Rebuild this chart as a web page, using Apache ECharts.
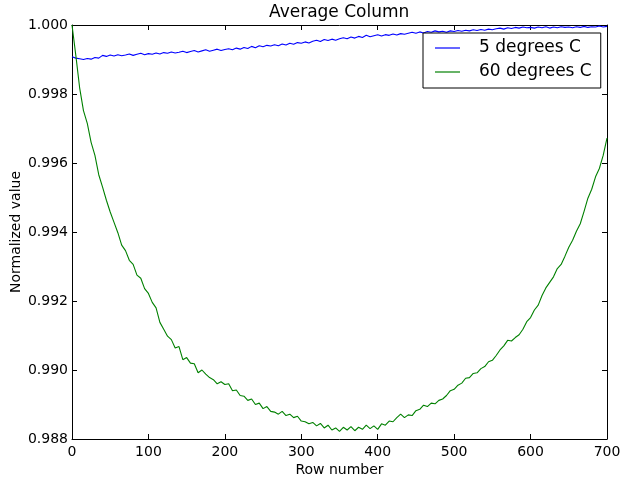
<!DOCTYPE html>
<html>
<head>
<meta charset="utf-8">
<script src="https://cdn.jsdelivr.net/npm/echarts@6/dist/echarts.min.js"></script>
<style>html,body{margin:0;padding:0;background:#fff}#c{width:623px;height:479px}</style>
</head>
<body>
<div id="c"></div>
<script>
var chartTitle = 'Average Column';
var xName = 'Row number';
var yName = 'Normalized value';
var seriesNames = ['5 degrees C', '60 degrees C'];
var xTicks = [0, 100, 200, 300, 400, 500, 600, 700];
var yTicks = [0.988, 0.990, 0.992, 0.994, 0.996, 0.998, 1.000];

var rows = [0,5,10,15,20,25,30,35,40,45,50,55,60,65,70,75,80,85,90,95,100,105,110,115,120,125,130,135,140,145,150,155,160,165,170,175,180,185,190,195,200,205,210,215,220,225,230,235,240,245,250,255,260,265,270,275,280,285,290,295,300,305,310,315,320,325,330,335,340,345,350,355,360,365,370,375,380,385,390,395,400,405,410,415,420,425,430,435,440,445,450,455,460,465,470,475,480,485,490,495,500,505,510,515,520,525,530,535,540,545,550,555,560,565,570,575,580,585,590,595,600,605,610,615,620,625,630,635,640,645,650,655,660,665,670,675,680,685,690,695,700];

var blue5C = [
0.99908,0.99904,0.99902,0.99900,0.99903,0.99901,0.99906,0.99904,0.99912,0.99909,0.99913,
0.99910,0.99914,0.99911,0.99913,0.99916,0.99912,0.99915,0.99918,0.99914,0.99917,
0.99915,0.99919,0.99916,0.99920,0.99918,0.99922,0.99919,0.99921,0.99924,0.99920,
0.99923,0.99926,0.99922,0.99925,0.99928,0.99924,0.99927,0.99930,0.99926,0.99929,
0.99931,0.99928,0.99933,0.99930,0.99935,0.99932,0.99938,0.99934,0.99940,0.99937,
0.99941,0.99939,0.99943,0.99940,0.99945,0.99942,0.99947,0.99944,0.99949,0.99947,
0.99951,0.99948,0.99953,0.99956,0.99952,0.99958,0.99955,0.99959,0.99956,0.99960,
0.99963,0.99960,0.99965,0.99962,0.99967,0.99964,0.99970,0.99966,0.99969,0.99972,
0.99968,0.99972,0.99970,0.99974,0.99971,0.99975,0.99973,0.99976,0.99979,0.99976,
0.99980,0.99977,0.99981,0.99979,0.99983,0.99980,0.99982,0.99979,0.99983,0.99981,
0.99984,0.99982,0.99985,0.99983,0.99986,0.99984,0.99987,0.99985,0.99988,0.99986,
0.99989,0.99991,0.99988,0.99992,0.99990,0.99993,0.99991,0.99994,0.99992,0.99993,
0.99991,0.99994,0.99992,0.99995,0.99991,0.99994,0.99992,0.99995,0.99993,0.99994,
0.99992,0.99995,0.99993,0.99996,0.99993,0.99995,0.99994,0.99997,0.99994,0.99996];

var green60C = [
1.00000,0.99912,0.99818,0.99752,0.99715,0.99660,0.99622,0.99566,0.99530,0.99492,0.99458,
0.99428,0.99398,0.99362,0.99346,0.99318,0.99306,0.99275,0.99266,0.99236,0.99222,
0.99196,0.99180,0.99138,0.99118,0.99098,0.99088,0.99064,0.99068,0.99030,0.99036,
0.99020,0.99018,0.98992,0.99000,0.98988,0.98978,0.98972,0.98960,0.98966,0.98958,
0.98960,0.98940,0.98942,0.98926,0.98924,0.98912,0.98916,0.98900,0.98904,0.98888,
0.98894,0.98880,0.98878,0.98872,0.98880,0.98868,0.98872,0.98862,0.98866,0.98852,
0.98850,0.98844,0.98848,0.98838,0.98845,0.98832,0.98840,0.98826,0.98832,0.98822,
0.98834,0.98826,0.98836,0.98824,0.98834,0.98828,0.98840,0.98830,0.98838,0.98828,
0.98844,0.98840,0.98852,0.98850,0.98862,0.98872,0.98862,0.98870,0.98868,0.98882,
0.98886,0.98898,0.98894,0.98904,0.98902,0.98912,0.98916,0.98926,0.98940,0.98944,
0.98956,0.98962,0.98976,0.98978,0.98990,0.98992,0.99004,0.99010,0.99024,0.99028,
0.99042,0.99058,0.99070,0.99086,0.99084,0.99094,0.99102,0.99118,0.99140,0.99152,
0.99174,0.99188,0.99216,0.99238,0.99254,0.99270,0.99294,0.99306,0.99330,0.99356,
0.99376,0.99402,0.99424,0.99460,0.99498,0.99524,0.99560,0.99584,0.99622,0.99672];

function pairs(xs, ys) { return xs.map(function (x, i) { return [x, ys[i]]; }); }

var FONT = 'DejaVu Sans';
var chart = echarts.init(document.getElementById('c'), null, { renderer: 'canvas' });
var xMin = xTicks[0], xMax = xTicks[xTicks.length - 1], xInt = xTicks[1] - xTicks[0];
var yMin = yTicks[0], yMax = yTicks[yTicks.length - 1], yInt = 0.002;

function baseAxis(extra) {
  var a = {
    type: 'value',
    axisLine: { show: true, onZero: false, lineStyle: { color: '#000', width: 1 } },
    axisTick: { show: true, inside: true, length: 5, lineStyle: { color: '#000', width: 1 } },
    splitLine: { show: false },
    axisLabel: { show: false }
  };
  for (var k in extra) a[k] = extra[k];
  return a;
}

chart.setOption({
  animation: false,
  backgroundColor: '#fff',
  title: {
    text: chartTitle, left: 269, top: 4, padding: 0,
    textStyle: { fontFamily: FONT, fontSize: 17, fontWeight: 'normal', color: '#000' }
  },
  grid: { left: 72, right: 16, top: 25, bottom: 40, containLabel: false, outerBoundsMode: 'none' },
  legend: {
    data: seriesNames, orient: 'vertical', left: 423, top: 33,
    padding: [5, 9, 6, 12], itemGap: 4, itemWidth: 25, itemHeight: 1.2, icon: 'rect',
    borderColor: '#000', borderWidth: 1, backgroundColor: '#fff',
    textStyle: { fontFamily: FONT, fontSize: 17, color: '#000', lineHeight: 20, padding: [0, 0, 0, 14] }
  },
  xAxis: [
    baseAxis({ min: xMin, max: xMax, interval: xInt, position: 'bottom',
      name: xName, nameLocation: 'middle', nameGap: 24, nameMoveOverlap: false,
      nameTextStyle: { fontFamily: FONT, fontSize: 14, color: '#000' },
      axisLabel: { show: true, margin: 6, fontFamily: FONT, fontSize: 14, color: '#000' } }),
    baseAxis({ min: xMin, max: xMax, interval: xInt, position: 'top' })
  ],
  yAxis: [
    baseAxis({ min: yMin, max: yMax, interval: yInt, position: 'left',
      name: yName, nameLocation: 'middle', nameGap: 49, nameMoveOverlap: false,
      nameTextStyle: { fontFamily: FONT, fontSize: 14, color: '#000' },
      axisLabel: { show: true, margin: 4, fontFamily: FONT, fontSize: 14, color: '#000',
        formatter: function (v) { return v.toFixed(3); } } }),
    baseAxis({ min: yMin, max: yMax, interval: yInt, position: 'right' })
  ],
  series: [
    { name: seriesNames[0], type: 'line', data: pairs(rows, blue5C), symbol: 'none',
      color: '#0000ff', lineStyle: { color: '#0000ff', width: 1.1 }, xAxisIndex: 0, yAxisIndex: 0 },
    { name: seriesNames[1], type: 'line', data: pairs(rows, green60C), symbol: 'none',
      color: '#008000', lineStyle: { color: '#008000', width: 1.1 }, xAxisIndex: 0, yAxisIndex: 0 }
  ]
});
</script>
</body>
</html>
